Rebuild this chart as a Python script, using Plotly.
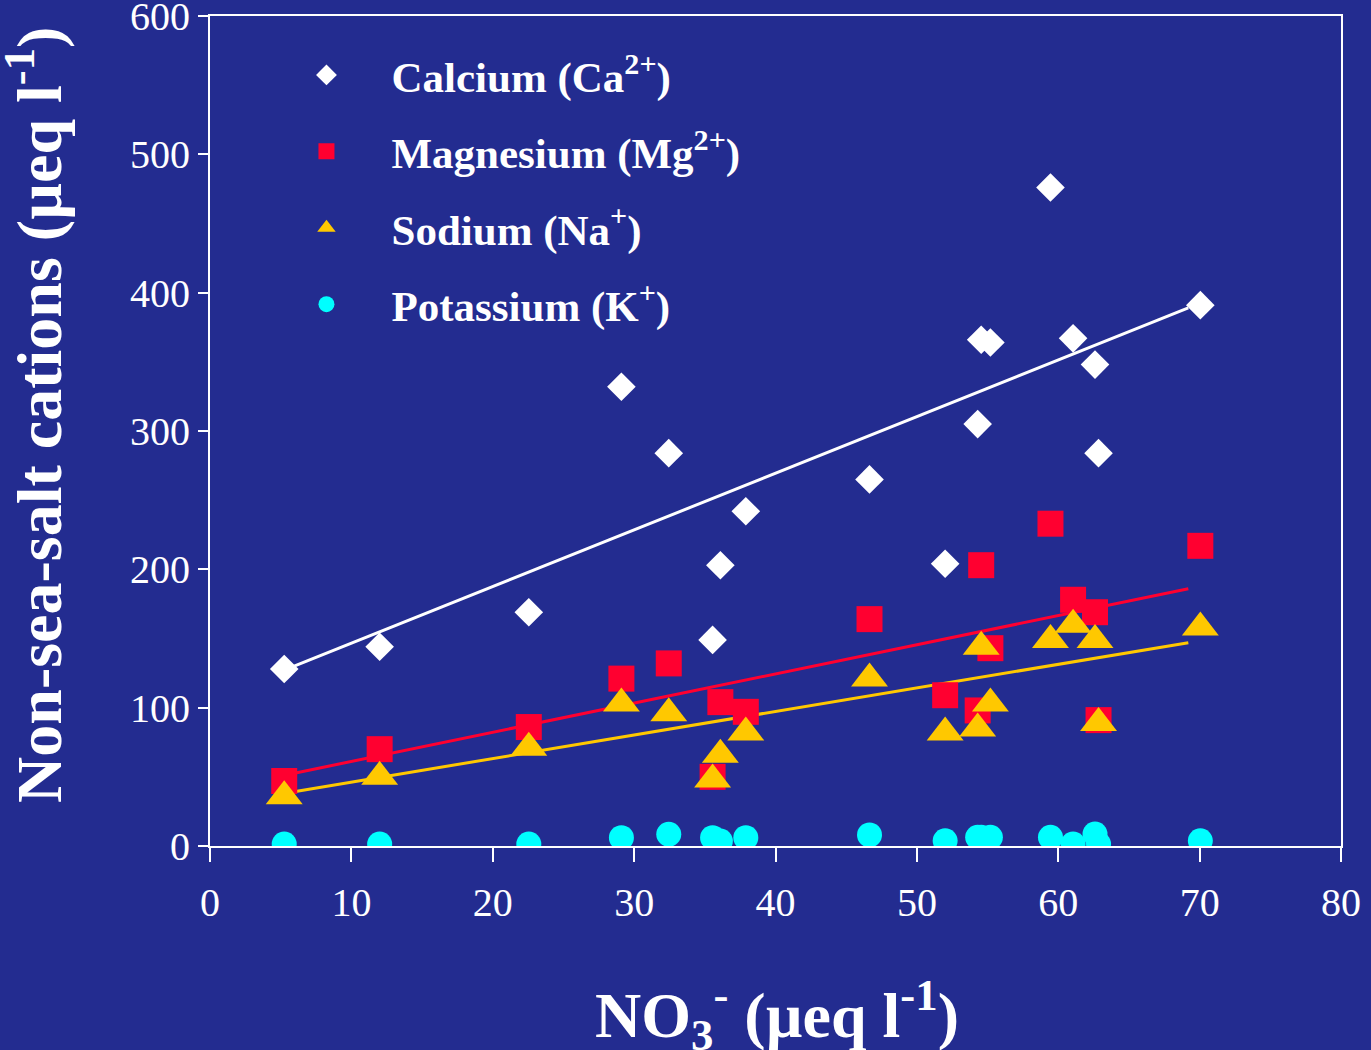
import plotly.graph_objects as go

# NO3- concentration of each sample (µeq l-1)
no3 = [5.25, 12.0, 22.55, 29.1, 32.45, 35.55, 36.1, 37.9, 46.65, 52.0,
       54.3, 54.55, 55.2, 59.45, 61.05, 62.6, 62.85, 70.05]

calcium = [128, 144, 169, 332, 284, 149, 203, 242, 265, 204,
           305, 366, 364, 476, 367, 348, 284, 391]
magnesium = [47, 70, 86, 121, 132, 50, 104, 97, 164, 109,
             98, 203, 143, 233, 178, 169, 91, 217]
sodium = [36, 50, 71, 103, 96, 48, 66, 82, 121, 82,
          85, 144, 103, 149, 160, 149, 89, 158]
potassium = [1.4, 1.4, 1.4, 6, 8.5, 6, 3.6, 6, 8, 3.8,
             6.3, 6.3, 6.3, 6.3, 1.4, 8.7, 1.4, 3.8]

# trend lines (start / end)
trend_x = [5.2, 69.2]
ca_trend = [127, 389]
mg_trend = [51, 186]
na_trend = [38, 147]

x_ticks = [0, 10, 20, 30, 40, 50, 60, 70, 80]
y_ticks = [0, 100, 200, 300, 400, 500, 600]

BG = "#232C90"
SERIF = "Liberation Serif"
C_CA = "#FFFFFF"
C_MG = "#FF0030"
C_NA = "#FFC800"
C_K = "#00FFFF"

fig = go.Figure()

for ys, col in [(ca_trend, C_CA), (mg_trend, C_MG), (na_trend, C_NA)]:
    fig.add_trace(go.Scatter(x=trend_x, y=ys, mode="lines",
                             line=dict(color=col, width=3),
                             showlegend=False, hoverinfo="skip"))

series = [
    ("Calcium (Ca<sup>2+</sup>)", calcium, "diamond", C_CA, 22, "g1"),
    ("Magnesium (Mg<sup>2+</sup>)", magnesium, "square", C_MG, 26, "g2"),
    ("Sodium (Na<sup>+</sup>)", sodium, "triangle-up", C_NA, 32, "g3"),
    ("Potassium (K<sup>+</sup>)", potassium, "circle", C_K, 25, "g4"),
]
for name, ys, sym, col, sz, grp in series:
    fig.add_trace(go.Scatter(x=no3, y=ys, mode="markers", name=name,
                             legendgroup=grp,
                             marker=dict(symbol=sym, color=col, size=sz,
                                         line=dict(width=0))))

fig.update_layout(
    width=1371, height=1050,
    paper_bgcolor=BG, plot_bgcolor=BG,
    margin=dict(l=209.5, r=30, t=16, b=204, autoexpand=False),
    font=dict(family=SERIF, color="white", size=40),
    showlegend=True,
    legend=dict(x=0.0455, y=0.9705, xanchor="left", yanchor="top",
                bgcolor="rgba(0,0,0,0)", tracegroupgap=17.5, itemwidth=120,
                font=dict(family=SERIF, size=43, color="white", weight="bold")),
    xaxis=dict(range=[0, 80], tickvals=x_ticks, showgrid=False, zeroline=False,
               showline=True, linecolor="white", linewidth=2, mirror=True,
               ticks="outside", ticklen=14, tickwidth=2, tickcolor="white",
               ticklabelstandoff=6, ticklabeloverflow="allow", automargin=False,
               tickfont=dict(family=SERIF, size=40, color="white")),
    yaxis=dict(range=[0, 600.01], tickvals=y_ticks, showgrid=False, zeroline=False,
               showline=True, linecolor="white", linewidth=2, mirror=True,
               ticks="outside", ticklen=10, tickwidth=2, tickcolor="white",
               ticklabeloverflow="allow", automargin=False,
               tickfont=dict(family=SERIF, size=40, color="white")),
    annotations=[
        dict(text="Non-sea-salt cations (µeq l<sup>-1</sup>)", textangle=-90,
             xref="paper", yref="paper", x=-0.155, y=0.519,
             xanchor="center", yanchor="middle", showarrow=False,
             font=dict(family=SERIF, size=64, color="white", weight="bold")),
        dict(text="NO<sub>3</sub><sup>-</sup> (µeq l<sup>-1</sup>)",
             xref="paper", yref="paper", x=0.5015, y=-0.2036,
             xanchor="center", yanchor="middle", showarrow=False,
             font=dict(family=SERIF, size=64, color="white", weight="bold")),
    ],
)

fig.write_html("out.html",
               config={"displayModeBar": False},
               post_script="document.body.style.margin='0';"
                           "document.body.style.overflow='hidden';")
